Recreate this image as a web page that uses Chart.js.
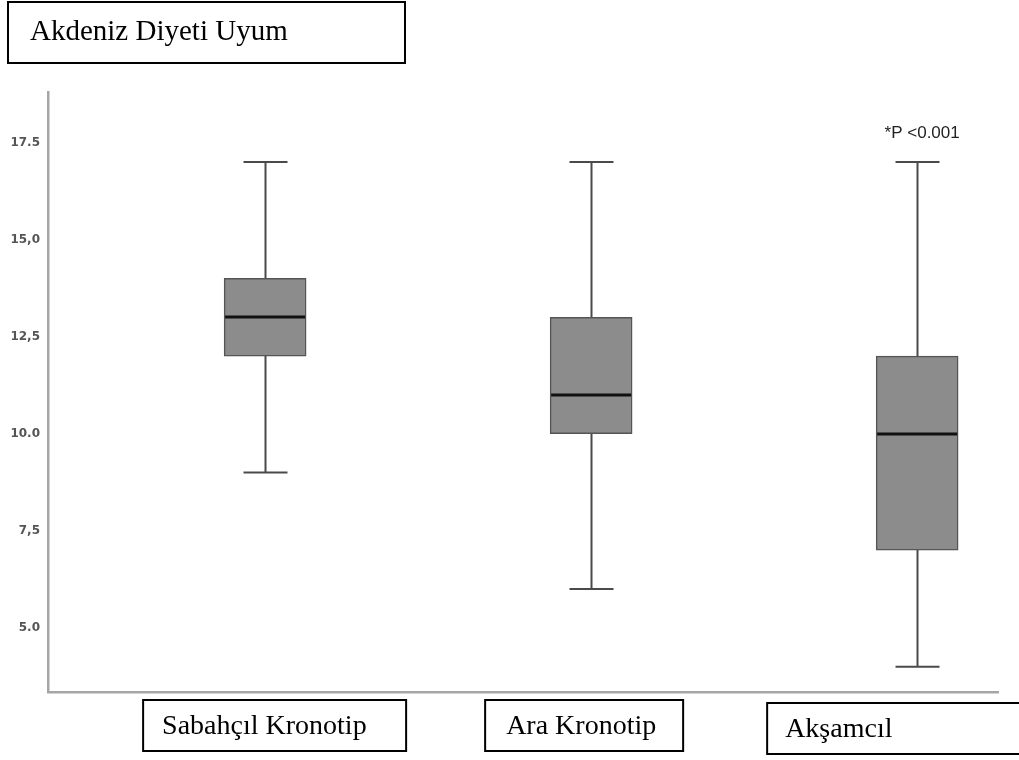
<!DOCTYPE html>
<html>
<head>
<meta charset="utf-8">
<script src="https://cdn.jsdelivr.net/npm/chart.js@4.4.1/dist/chart.umd.min.js"></script>
<style>
  html, body { margin: 0; padding: 0; background: #fff; }
  #wrap { width: 1019px; height: 760px; }
</style>
</head>
<body>
<div id="wrap"><canvas id="boxChart" width="1019" height="760"></canvas></div>
<script>
// DATA
const categories = ['Sabahçıl Kronotip', 'Ara Kronotip', 'Akşamcıl'];
const whiskerLow = [9, 6, 4];
const q1 = [12, 10, 7];
const medians = [13, 11, 10];
const q3 = [14, 13, 12];
const whiskerHigh = [17, 17, 17];
const yTicks = [5, 7.5, 10, 12.5, 15, 17.5];
const yTickLabels = ['5.0', '7,5', '10.0', '12,5', '15,0', '17.5'];
const chartTitle = 'Akdeniz Diyeti Uyum';
const pNote = '*P <0.001';

// label boxes under the axis (offset from category centre, width)
const labelBoxes = [
  { dx: -122, w: 263, pad: 19 },
  { dx: -106, w: 198, pad: 21 },
  { dx: -150, w: 280, pad: 18 }
];

const boxData = categories.map((c, i) => ({ x: i + 1, y: [q1[i], q3[i]] }));

// WHISKERS, MEDIANS AND TEXT
const boxPlotPlugin = {
  id: 'boxPlot',
  beforeDraw(chart) {
    const { ctx } = chart;
    ctx.save();
    ctx.fillStyle = '#fff';
    ctx.fillRect(0, 0, chart.width, chart.height);
    ctx.restore();
  },
  beforeDatasetsDraw(chart) {
    const { ctx, scales: { x, y } } = chart;
    ctx.save();
    ctx.strokeStyle = '#4a4a4a';
    ctx.lineWidth = 2;
    categories.forEach((c, i) => {
      const cx = Math.round(x.getPixelForValue(i + 1)) + 0.5;
      const yLo = y.getPixelForValue(whiskerLow[i]);
      const yHi = y.getPixelForValue(whiskerHigh[i]);
      ctx.beginPath();
      ctx.moveTo(cx, yHi);
      ctx.lineTo(cx, yLo);
      ctx.moveTo(cx - 22, yHi);
      ctx.lineTo(cx + 22, yHi);
      ctx.moveTo(cx - 22, yLo);
      ctx.lineTo(cx + 22, yLo);
      ctx.stroke();
    });
    ctx.restore();
  },
  afterDatasetsDraw(chart) {
    const { ctx, scales: { x, y } } = chart;
    ctx.save();
    ctx.strokeStyle = '#111';
    ctx.lineWidth = 3;
    categories.forEach((c, i) => {
      const cx = x.getPixelForValue(i + 1);
      const my = Math.round(y.getPixelForValue(medians[i]));
      ctx.beginPath();
      ctx.moveTo(cx - 40, my);
      ctx.lineTo(cx + 40, my);
      ctx.stroke();
    });

    // p value note
    ctx.fillStyle = '#222';
    ctx.font = '17px "Liberation Sans", Arial, sans-serif';
    ctx.textAlign = 'center';
    ctx.textBaseline = 'middle';
    ctx.fillText(pNote, x.getPixelForValue(3) + 5, y.getPixelForValue(whiskerHigh[2]) - 29);

    // title box
    ctx.strokeStyle = '#000';
    ctx.lineWidth = 2;
    ctx.strokeRect(8, 2, 397, 61);
    ctx.fillStyle = '#000';
    ctx.textAlign = 'left';
    ctx.font = '29px "Liberation Serif", "Times New Roman", serif';
    ctx.fillText(chartTitle, 30, 32);

    // category label boxes
    ctx.font = '28px "Liberation Serif", "Times New Roman", serif';
    categories.forEach((c, i) => {
      const b = labelBoxes[i];
      const left = x.getPixelForValue(i + 1) + b.dx;
      const top = i === 2 ? 703 : 700;
      ctx.strokeRect(left, top, b.w, 51);
      ctx.fillText(c, left + b.pad, top + 27);
    });
    ctx.restore();
  }
};

const ctx = document.getElementById('boxChart').getContext('2d');
new Chart(ctx, {
  type: 'bar',
  data: {
    datasets: [{
      data: boxData,
      backgroundColor: '#8c8c8c',
      borderColor: '#555',
      borderWidth: 1.5,
      borderSkipped: false,
      barThickness: 82
    }]
  },
  options: {
    responsive: false,
    animation: false,
    layout: { padding: { left: 0, top: 92, right: 21, bottom: 68 } },
    plugins: { legend: { display: false }, tooltip: { enabled: false } },
    scales: {
      x: {
        type: 'linear',
        offset: false,
        min: 0.334,
        max: 3.248,
        grid: { display: false, drawTicks: false, offset: false },
        ticks: { display: false },
        border: { display: true, color: '#a6a6a6', width: 2.5 },
        afterFit: (s) => { s.height = 0; }
      },
      y: {
        min: 3.35,
        max: 18.8,
        grid: { display: false, drawTicks: false },
        border: { display: true, color: '#a6a6a6', width: 2.5 },
        afterFit: (s) => { s.width = 48; },
        afterBuildTicks: (s) => { s.ticks = yTicks.map(v => ({ value: v })); },
        ticks: {
          padding: 8,
          color: '#555',
          font: { family: '"DejaVu Sans", sans-serif', size: 12, weight: 'bold' },
          callback: (v) => {
            const k = yTicks.indexOf(v);
            return k >= 0 ? yTickLabels[k] : '';
          }
        }
      }
    }
  },
  plugins: [boxPlotPlugin]
});
</script>
</body>
</html>
